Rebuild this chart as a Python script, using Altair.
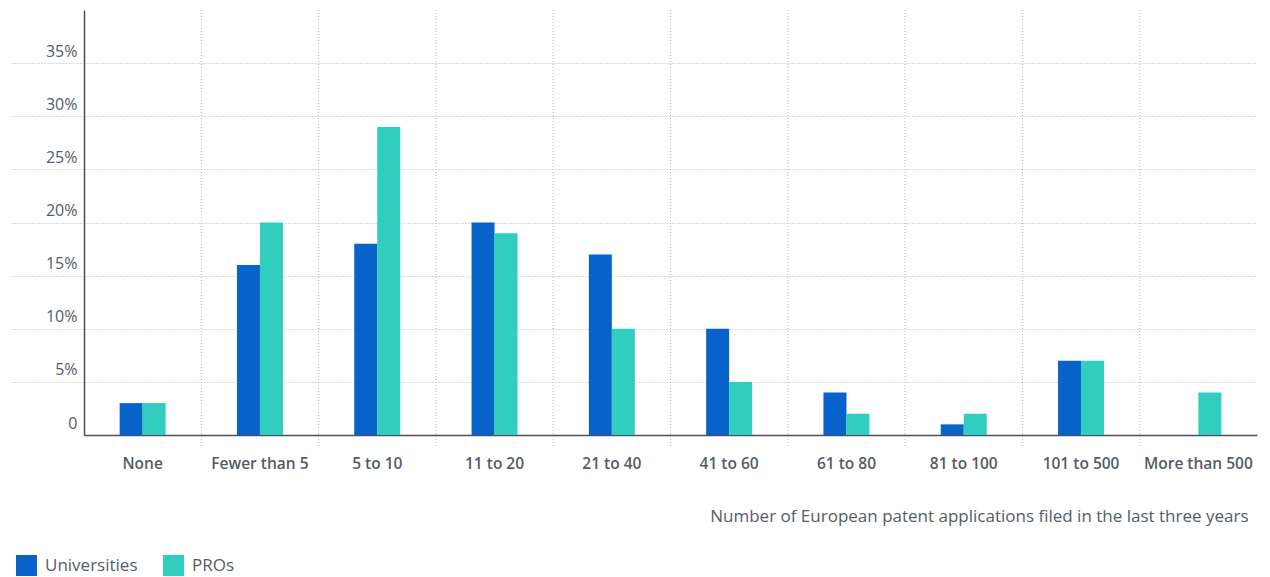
import altair as alt
import pandas as pd

categories = ["None", "Fewer than 5", "5 to 10", "11 to 20", "21 to 40",
              "41 to 60", "61 to 80", "81 to 100", "101 to 500", "More than 500"]
universities = [3, 16, 18, 20, 17, 10, 4, 1, 7, 0]
pros = [3, 20, 29, 19, 10, 5, 2, 2, 7, 4]
series = ["Universities", "PROs"]
colors = ["#0563c9", "#31cdbf"]
y_ticks = [0, 5, 10, 15, 20, 25, 30, 35]

rows = []
for cat, u, p in zip(categories, universities, pros):
    rows.append({"category": cat, "group": "Universities", "share": u})
    rows.append({"category": cat, "group": "PROs", "share": p})
df = pd.DataFrame(rows)
bounds = pd.DataFrame({"category": categories[1:]})

W, H = 1173, 425
BAR = 23                      # width of a single bar
BAND = W / len(categories)    # width of one category group
FONT = "Open Sans"
TEXT = "#555c69"
GRID = "#b4b4b4"
AXIS = "#4a5060"

x_scale = alt.Scale(domain=categories, paddingInner=0, paddingOuter=0)

# dotted separators between category groups, reaching below the baseline
separators = alt.Chart(bounds).mark_rule(
    color=GRID, strokeDash=[1, 2], strokeWidth=1
).encode(
    x=alt.X("category:N", scale=x_scale, bandPosition=0),
    y=alt.value(0),
    y2=alt.value(H + 12),
)

bars = alt.Chart(df).mark_bar(strokeWidth=0).encode(
    x=alt.X(
        "category:N",
        scale=x_scale,
        axis=alt.Axis(
            title="Number of European patent applications filed in the last three years",
            labelAngle=0,
            labelAlign="center",
            ticks=False,
            tickSize=0,
            grid=False,
            domainColor=AXIS,
            domainWidth=1.5,
            labelPadding=33,
            labelBaseline="alphabetic",
            labelFontSize=15.5,
            labelFontWeight=600,
            labelColor=TEXT,
            titleX=1164,
            titleY=86,
            titleAlign="right",
            titleBaseline="alphabetic",
            titleFontSize=17,
            titleFontWeight="normal",
            titleColor=TEXT,
        ),
    ),
    xOffset=alt.XOffset(
        "group:N", sort=series,
        scale=alt.Scale(domain=series, paddingInner=0, paddingOuter=0,
                        range=[BAND / 2 - BAR, BAND / 2 + BAR]),
    ),
    y=alt.Y(
        "share:Q",
        scale=alt.Scale(domain=[0, 40]),
        axis=alt.Axis(
            title=None,
            values=y_ticks,
            grid=True,
            gridColor=GRID,
            gridDash=[1, 2],
            gridWidth=1,
            tickSize=75,
            tickColor=GRID,
            tickDash=[1, 2],
            tickWidth=1,
            tickOpacity={"condition": {"test": "datum.value === 0", "value": 0}, "value": 1},
            domainColor=AXIS,
            domainWidth=1.5,
            labelPadding=-68,
            labelAlign="right",
            labelBaseline="alphabetic",
            labelOffset=-7,
            labelFontSize=16,
            labelColor=TEXT,
            labelExpr="datum.value === 0 ? '0' : datum.value + '%'",
        ),
    ),
    color=alt.Color(
        "group:N",
        sort=series,
        scale=alt.Scale(domain=series, range=colors),
        legend=alt.Legend(
            title=None,
            orient="none",
            legendX=-68,
            legendY=545,
            direction="horizontal",
            symbolType="square",
            symbolSize=441,
            symbolStrokeWidth=0,
            symbolOpacity=1,
            labelFontSize=17,
            labelColor=TEXT,
            labelOffset=8,
            columnPadding=25,
            padding=0,
        ),
    ),
)

chart = alt.layer(separators, bars).properties(
    width=W,
    height=H,
    autosize="none",
    padding={"left": 84, "top": 10, "right": 13, "bottom": 142},
).configure(font=FONT).configure_view(stroke=None)

chart.save("out.html", embed_options={"renderer": "svg", "actions": False})
